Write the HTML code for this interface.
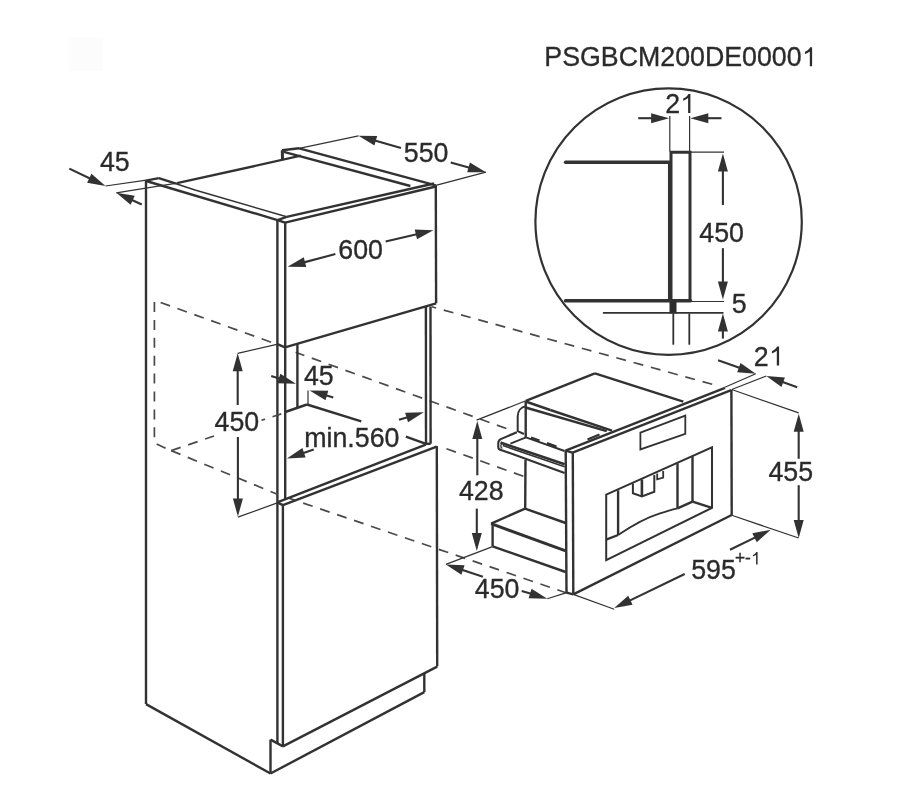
<!DOCTYPE html>
<html><head><meta charset="utf-8"><style>
html,body{margin:0;padding:0;background:#fff;overflow:hidden;}
svg{display:block;}
#w{will-change:transform;width:907px;height:796px;}
text{font-family:"Liberation Sans",sans-serif;fill:#2a2a2a;font-kerning:none;}
</style></head><body>
<div id="w"><svg width="907" height="796" viewBox="0 0 907 796">
<rect width="907" height="796" fill="#fff"/>
<rect x="69" y="37" width="34" height="34" fill="#fcfcfc"/>
<line x1="69.3" y1="168.6" x2="91.08" y2="179.07" stroke="#323232" stroke-width="2.1"/>
<polygon points="105.5,186 87.11,182.71 91.44,173.70" fill="#323232"/>
<line x1="105.5" y1="186" x2="146.4" y2="180.1" stroke="#323232" stroke-width="1.2"/>
<line x1="141.8" y1="204.5" x2="130.84" y2="199.47" stroke="#323232" stroke-width="2.1"/>
<polygon points="116.3,192.8 134.75,195.76 130.58,204.85" fill="#323232"/>
<line x1="116.3" y1="192.8" x2="177" y2="183.2" stroke="#323232" stroke-width="1.2"/>
<text transform="translate(99.89,170.8) scale(0.97,1)" font-size="27.6" stroke="#323232" stroke-width="0.35">45</text>
<line x1="146" y1="180.6" x2="146" y2="704.1" stroke="#323232" stroke-width="2.4"/>
<line x1="146" y1="180.6" x2="158.8" y2="178.1" stroke="#323232" stroke-width="2.4"/>
<line x1="146.2" y1="181" x2="277.5" y2="220.1" stroke="#323232" stroke-width="2.4"/>
<line x1="158.8" y1="178.1" x2="176" y2="183.7" stroke="#323232" stroke-width="2.4"/>
<path d="M176,183.7 L195,190 L286.7,216.8" fill="none" stroke="#323232" stroke-width="1.5" stroke-linejoin="miter"/>
<line x1="177" y1="183.2" x2="300.9" y2="155.7" stroke="#323232" stroke-width="2.4"/>
<line x1="282.3" y1="150.2" x2="282.5" y2="159.5" stroke="#323232" stroke-width="3"/>
<line x1="282.1" y1="150.2" x2="299.2" y2="148.3" stroke="#323232" stroke-width="2.4"/>
<line x1="299.2" y1="148.3" x2="435.8" y2="185.4" stroke="#323232" stroke-width="2.4"/>
<line x1="283.8" y1="151.8" x2="410.4" y2="186" stroke="#323232" stroke-width="2.4"/>
<line x1="286.7" y1="216.8" x2="434" y2="183.5" stroke="#323232" stroke-width="2.4"/>
<line x1="285.1" y1="222.6" x2="435.8" y2="186.5" stroke="#323232" stroke-width="2.4"/>
<line x1="277.5" y1="220.1" x2="285.1" y2="222.6" stroke="#323232" stroke-width="2.4"/>
<line x1="277.5" y1="220.1" x2="286.7" y2="216.8" stroke="#323232" stroke-width="2.4"/>
<line x1="299.2" y1="148.3" x2="358.5" y2="135.8" stroke="#323232" stroke-width="1.2"/>
<line x1="401" y1="147.9" x2="373.89" y2="140.18" stroke="#323232" stroke-width="2.1"/>
<polygon points="358.5,135.8 377.18,135.92 374.44,145.54" fill="#323232"/>
<line x1="450.7" y1="162.4" x2="470.49" y2="167.91" stroke="#323232" stroke-width="2.1"/>
<polygon points="485.9,172.2 467.22,172.19 469.90,162.56" fill="#323232"/>
<line x1="435.8" y1="185.4" x2="485.9" y2="172.2" stroke="#323232" stroke-width="1.2"/>
<text transform="translate(403.83,162.1) scale(0.97,1)" font-size="27.6" stroke="#323232" stroke-width="0.35">550</text>
<line x1="277.4" y1="220.1" x2="277.4" y2="743.4" stroke="#323232" stroke-width="2.4"/>
<line x1="285.2" y1="222.6" x2="285.2" y2="499.3" stroke="#323232" stroke-width="2.4"/>
<line x1="282.9" y1="505.2" x2="282.9" y2="746.4" stroke="#323232" stroke-width="2.4"/>
<line x1="435.8" y1="185.4" x2="436.1" y2="303.3" stroke="#323232" stroke-width="2.4"/>
<line x1="285" y1="347.4" x2="436.1" y2="303.3" stroke="#323232" stroke-width="2.4"/>
<line x1="277.4" y1="344.1" x2="285" y2="347.4" stroke="#323232" stroke-width="2.4"/>
<text transform="translate(338.34,259.4) scale(0.97,1)" font-size="27.6" stroke="#323232" stroke-width="0.35">600</text>
<line x1="335.4" y1="254.1" x2="303.07" y2="262.62" stroke="#323232" stroke-width="2.1"/>
<polygon points="287.6,266.7 303.73,257.28 306.28,266.95" fill="#323232"/>
<line x1="385.6" y1="241.6" x2="417.83" y2="233.98" stroke="#323232" stroke-width="2.1"/>
<polygon points="433.4,230.3 417.03,239.31 414.73,229.58" fill="#323232"/>
<line x1="154.4" y1="302" x2="154.4" y2="438" stroke="#4a4a4a" stroke-width="1.7" stroke-dasharray="10 7.9" stroke-dashoffset="0"/>
<line x1="160.6" y1="302.5" x2="277" y2="344.3" stroke="#4a4a4a" stroke-width="1.7" stroke-dasharray="10 7.9" stroke-dashoffset="0"/>
<line x1="295.6" y1="352.3" x2="506.5" y2="428.6" stroke="#4a4a4a" stroke-width="1.7" stroke-dasharray="10 7.9" stroke-dashoffset="0.7"/>
<line x1="171.2" y1="450.6" x2="214" y2="436" stroke="#4a4a4a" stroke-width="1.7" stroke-dasharray="10 7.9" stroke-dashoffset="0"/>
<line x1="261.5" y1="420.3" x2="281.3" y2="413.9" stroke="#4a4a4a" stroke-width="1.7" stroke-dasharray="10 7.9" stroke-dashoffset="6.3"/>
<line x1="156.6" y1="444" x2="165.8" y2="448.4" stroke="#4a4a4a" stroke-width="1.7" stroke-dasharray="10 7.9" stroke-dashoffset="0"/>
<line x1="171.2" y1="450.6" x2="278" y2="494.5" stroke="#4a4a4a" stroke-width="1.7" stroke-dasharray="10 7.9" stroke-dashoffset="0"/>
<line x1="289.5" y1="498.4" x2="566.7" y2="593" stroke="#4a4a4a" stroke-width="1.7" stroke-dasharray="10 7.9" stroke-dashoffset="3.4"/>
<line x1="431.7" y1="306.8" x2="715" y2="385" stroke="#4a4a4a" stroke-width="1.7" stroke-dasharray="10 7.9" stroke-dashoffset="5.4"/>
<line x1="446.5" y1="448.8" x2="523.9" y2="476.4" stroke="#4a4a4a" stroke-width="1.7" stroke-dasharray="10 7.9" stroke-dashoffset="0"/>
<line x1="425.9" y1="306.4" x2="426" y2="443.8" stroke="#323232" stroke-width="2.4"/>
<line x1="430.5" y1="306.4" x2="430.6" y2="443.8" stroke="#323232" stroke-width="2.4"/>
<line x1="297.4" y1="343.8" x2="297.4" y2="407.9" stroke="#323232" stroke-width="2.4"/>
<line x1="285.2" y1="412" x2="307" y2="404.5" stroke="#323232" stroke-width="2.4"/>
<line x1="307" y1="404.5" x2="361.3" y2="421.3" stroke="#323232" stroke-width="2.4"/>
<line x1="405.9" y1="436.7" x2="426" y2="443.8" stroke="#323232" stroke-width="2.4"/>
<line x1="308" y1="390.6" x2="308" y2="405" stroke="#323232" stroke-width="1.2"/>
<line x1="333.3" y1="397.4" x2="324.98" y2="395.01" stroke="#323232" stroke-width="2.1"/>
<polygon points="309.6,390.6 328.28,390.76 325.52,400.37" fill="#323232"/>
<line x1="271.2" y1="376" x2="280.74" y2="379.00" stroke="#323232" stroke-width="2.1"/>
<polygon points="296,383.8 277.33,383.17 280.33,373.63" fill="#323232"/>
<text transform="translate(303.99,384.9) scale(0.97,1)" font-size="27.6" stroke="#323232" stroke-width="0.35">45</text>
<line x1="237.7" y1="353.3" x2="276.8" y2="344.3" stroke="#323232" stroke-width="1.2"/>
<line x1="237.7" y1="405" x2="237.70" y2="369.30" stroke="#323232" stroke-width="2.1"/>
<polygon points="237.7,353.3 242.70,371.30 232.70,371.30" fill="#323232"/>
<line x1="237.9" y1="437" x2="237.90" y2="500.50" stroke="#323232" stroke-width="2.1"/>
<polygon points="237.9,516.5 232.90,498.50 242.90,498.50" fill="#323232"/>
<line x1="237.9" y1="517.1" x2="278.7" y2="502.4" stroke="#323232" stroke-width="1.2"/>
<line x1="277.2" y1="502.4" x2="425.8" y2="444.7" stroke="#323232" stroke-width="2.4"/>
<line x1="282.9" y1="505.2" x2="436.7" y2="446.6" stroke="#323232" stroke-width="2.4"/>
<line x1="277.2" y1="502.4" x2="282.9" y2="505.2" stroke="#323232" stroke-width="2.4"/>
<line x1="436.8" y1="446" x2="437.2" y2="666.6" stroke="#323232" stroke-width="2.4"/>
<line x1="282.9" y1="746.4" x2="437.2" y2="666.6" stroke="#323232" stroke-width="2.4"/>
<line x1="270.5" y1="739.6" x2="270.5" y2="773.5" stroke="#323232" stroke-width="2.4"/>
<line x1="270.5" y1="739.6" x2="283" y2="746.4" stroke="#323232" stroke-width="2.4"/>
<line x1="270.5" y1="773.5" x2="424.3" y2="692.1" stroke="#323232" stroke-width="2.4"/>
<line x1="424.3" y1="673.2" x2="424.3" y2="692.1" stroke="#323232" stroke-width="2.4"/>
<line x1="146" y1="704.1" x2="270.5" y2="773.5" stroke="#323232" stroke-width="2.4"/>
<line x1="426" y1="443.8" x2="430.6" y2="443.8" stroke="#323232" stroke-width="2.4"/>
<line x1="313.7" y1="449.6" x2="302.08" y2="453.46" stroke="#323232" stroke-width="2.1"/>
<polygon points="286.9,458.5 302.41,448.08 305.56,457.57" fill="#323232"/>
<line x1="399" y1="419.8" x2="408.49" y2="416.93" stroke="#323232" stroke-width="2.1"/>
<polygon points="423.8,412.3 408.02,422.30 405.12,412.72" fill="#323232"/>
<text transform="translate(304.22,447.2) scale(0.97,1)" font-size="27.6" stroke="#323232" stroke-width="0.35">min.560</text>
<text transform="translate(214.59,430.5) scale(0.97,1)" font-size="27.6" stroke="#323232" stroke-width="0.35">450</text>
<line x1="525.8" y1="400.8" x2="594.9" y2="373.3" stroke="#323232" stroke-width="2.4"/>
<line x1="594.9" y1="373.3" x2="683.3" y2="401.7" stroke="#323232" stroke-width="2.4"/>
<line x1="476.6" y1="420.1" x2="525.8" y2="400.8" stroke="#323232" stroke-width="1.2"/>
<line x1="525.7" y1="401.2" x2="525.7" y2="437" stroke="#323232" stroke-width="2.4"/>
<line x1="525.5" y1="460" x2="525.2" y2="508.6" stroke="#323232" stroke-width="2.4"/>
<line x1="550.3" y1="410" x2="612" y2="430.7" stroke="#323232" stroke-width="2.4"/>
<line x1="525.6" y1="401.5" x2="550.3" y2="410" stroke="#323232" stroke-width="2.4"/>
<line x1="525.6" y1="407.5" x2="606.7" y2="431.2" stroke="#323232" stroke-width="2.4"/>
<line x1="565.5" y1="450.6" x2="725" y2="387.8" stroke="#323232" stroke-width="2.4"/>
<line x1="572.6" y1="452.6" x2="731.2" y2="390.1" stroke="#323232" stroke-width="2.4"/>
<line x1="565.5" y1="450.6" x2="572.6" y2="452.6" stroke="#323232" stroke-width="2.4"/>
<line x1="565.7" y1="450.6" x2="566.5" y2="592.6" stroke="#323232" stroke-width="2.4"/>
<line x1="572.8" y1="452.6" x2="573.3" y2="594.4" stroke="#323232" stroke-width="2.4"/>
<line x1="731.4" y1="390.1" x2="731.7" y2="515" stroke="#323232" stroke-width="2.4"/>
<line x1="573.3" y1="594.4" x2="731.7" y2="515" stroke="#323232" stroke-width="2.4"/>
<line x1="566.5" y1="592.6" x2="573.3" y2="594.4" stroke="#323232" stroke-width="2.4"/>
<path d="M640.4,432.6 L685.3,415.6 L685.3,433.8 L640.4,449.4 Z" fill="none" stroke="#323232" stroke-width="1.8" stroke-linejoin="miter"/>
<path d="M606.2,494.7 L712,447.3 L712,507.8 L606.2,560.2 Z" fill="none" stroke="#323232" stroke-width="2" stroke-linejoin="miter"/>
<line x1="618.1" y1="490.3" x2="618.1" y2="535" stroke="#323232" stroke-width="2.4"/>
<line x1="606.2" y1="539.7" x2="618.1" y2="535" stroke="#323232" stroke-width="2.4"/>
<path d="M618.1,535 C630,527 645,518 660,513.4 S672,509.5 677.5,508.4" fill="none" stroke="#323232" stroke-width="1.8"/>
<line x1="677.5" y1="463.2" x2="677.5" y2="508.4" stroke="#323232" stroke-width="2.4"/>
<line x1="692.5" y1="456.4" x2="692.5" y2="501.6" stroke="#323232" stroke-width="2.4"/>
<line x1="677.5" y1="508.4" x2="692.5" y2="501.6" stroke="#323232" stroke-width="2.4"/>
<line x1="692.5" y1="501.6" x2="712" y2="507.8" stroke="#323232" stroke-width="2.4"/>
<path d="M632.9,483.4 L632.9,493.3 L641.9,496.5 L654.3,491.8 L654.3,474.9" fill="none" stroke="#323232" stroke-width="2" stroke-linejoin="miter"/>
<line x1="641.9" y1="479.4" x2="641.9" y2="496.5" stroke="#323232" stroke-width="2.6"/>
<path d="M657.2,473.4 L657.2,479.4 L663.2,477.6 L663.2,471" fill="none" stroke="#323232" stroke-width="1.8" stroke-linejoin="miter"/>
<path d="M526,406.3 C521,407 517.7,411 517.7,416.5 L517.7,431.2 L523.9,434" fill="none" stroke="#323232" stroke-width="2"/>
<path d="M516.8,432.2 L500.8,439.1 Q498.3,440.3 498.3,443 L498.3,447.2 Q498.3,449.2 500.4,449.8" fill="none" stroke="#323232" stroke-width="2.1"/>
<path d="M503,443.1 Q500.9,443.6 500.9,445.6 L500.9,446.6 Q500.9,447.9 502.4,448.3" fill="none" stroke="#323232" stroke-width="1.3"/>
<line x1="500.5" y1="442.6" x2="564.6" y2="464.3" stroke="#323232" stroke-width="2.6"/>
<line x1="502.8" y1="445.5" x2="564.6" y2="466.8" stroke="#323232" stroke-width="1.6"/>
<line x1="499.5" y1="449.4" x2="564.6" y2="473" stroke="#323232" stroke-width="2.1"/>
<line x1="510.4" y1="443.6" x2="526" y2="437.4" stroke="#323232" stroke-width="1.8"/>
<line x1="526" y1="437.4" x2="564.6" y2="451" stroke="#323232" stroke-width="2"/>
<line x1="531" y1="437.6" x2="539.5" y2="440.6" stroke="#323232" stroke-width="2.4"/>
<line x1="547" y1="443.2" x2="556.5" y2="446.6" stroke="#323232" stroke-width="2.4"/>
<line x1="587.5" y1="439.5" x2="599.5" y2="434.5" stroke="#323232" stroke-width="2.4"/>
<line x1="525" y1="508.6" x2="491.1" y2="523.7" stroke="#323232" stroke-width="2.4"/>
<line x1="525" y1="508.6" x2="565.7" y2="523" stroke="#323232" stroke-width="2.4"/>
<line x1="491.1" y1="523.7" x2="565.7" y2="550.9" stroke="#323232" stroke-width="3"/>
<line x1="492.6" y1="525.2" x2="492.6" y2="546.3" stroke="#323232" stroke-width="2.4"/>
<line x1="492.6" y1="546.3" x2="565.7" y2="572" stroke="#323232" stroke-width="2.4"/>
<line x1="477.3" y1="475.3" x2="477.30" y2="437.10" stroke="#323232" stroke-width="2.1"/>
<polygon points="477.3,421.1 482.30,439.10 472.30,439.10" fill="#323232"/>
<line x1="476.8" y1="508.6" x2="476.80" y2="534.90" stroke="#323232" stroke-width="2.1"/>
<polygon points="476.8,550.9 471.80,532.90 481.80,532.90" fill="#323232"/>
<line x1="445.9" y1="564.4" x2="492.6" y2="546.6" stroke="#323232" stroke-width="1.2"/>
<text transform="translate(458.99,499.8) scale(0.97,1)" font-size="27.6" stroke="#323232" stroke-width="0.35">428</text>
<line x1="482.9" y1="576.7" x2="461.08" y2="569.45" stroke="#323232" stroke-width="2.1"/>
<polygon points="445.9,564.4 464.56,565.33 461.40,574.82" fill="#323232"/>
<line x1="521.7" y1="590.9" x2="532.01" y2="594.08" stroke="#323232" stroke-width="2.1"/>
<polygon points="547.3,598.8 528.63,598.27 531.57,588.71" fill="#323232"/>
<line x1="547.3" y1="598.8" x2="566.7" y2="592.6" stroke="#323232" stroke-width="1.2"/>
<text transform="translate(474.79,597.7) scale(0.97,1)" font-size="27.6" stroke="#323232" stroke-width="0.35">450</text>
<line x1="573.3" y1="594.4" x2="614.2" y2="609.2" stroke="#323232" stroke-width="1.2"/>
<line x1="684.7" y1="574" x2="628.60" y2="601.13" stroke="#323232" stroke-width="2.1"/>
<polygon points="614.2,608.1 628.23,595.76 632.58,604.76" fill="#323232"/>
<line x1="730" y1="549.7" x2="756.33" y2="536.83" stroke="#323232" stroke-width="2.1"/>
<polygon points="770.7,529.8 756.73,542.20 752.33,533.21" fill="#323232"/>
<line x1="731.7" y1="515.3" x2="798.7" y2="538" stroke="#323232" stroke-width="1.2"/>
<text transform="translate(691.13,578.7) scale(0.97,1)" font-size="27.6" stroke="#323232" stroke-width="0.35">595</text>
<text transform="translate(734.95,564.4) scale(0.97,1)" font-size="17.9" stroke="#323232" stroke-width="0.35">+-</text>
<path transform="translate(750.87,564.4) scale(0.00848,-0.00874)" d="M793,0 L617,0 L617,1100 C560,1050 420,960 242,900 L242,1068 C420,1140 560,1260 640,1409 L793,1409 Z" fill="#2c2c2c"/>
<line x1="731.7" y1="389.5" x2="798.7" y2="412.9" stroke="#323232" stroke-width="1.2"/>
<line x1="798.7" y1="458.8" x2="798.70" y2="429.70" stroke="#323232" stroke-width="2.1"/>
<polygon points="798.7,413.7 803.70,431.70 793.70,431.70" fill="#323232"/>
<line x1="798.7" y1="485.2" x2="798.70" y2="522.00" stroke="#323232" stroke-width="2.1"/>
<polygon points="798.7,538 793.70,520.00 803.70,520.00" fill="#323232"/>
<text transform="translate(768.39,480.8) scale(0.97,1)" font-size="27.6" stroke="#323232" stroke-width="0.35">455</text>
<line x1="718.1" y1="360.2" x2="740.74" y2="368.31" stroke="#323232" stroke-width="2.1"/>
<polygon points="755.8,373.7 737.17,372.34 740.54,362.92" fill="#323232"/>
<line x1="755.8" y1="373.7" x2="724.9" y2="387.3" stroke="#323232" stroke-width="1.2"/>
<line x1="797.2" y1="387.3" x2="781.33" y2="381.50" stroke="#323232" stroke-width="2.1"/>
<polygon points="766.3,376 784.92,377.49 781.49,386.88" fill="#323232"/>
<line x1="766.3" y1="376" x2="731.7" y2="389.5" stroke="#323232" stroke-width="1.2"/>
<text transform="translate(753.85,365.6) scale(0.97,1)" font-size="27.6" stroke="#323232" stroke-width="0.35">2</text>
<path transform="translate(768.74,365.6) scale(0.01307,-0.01348)" d="M793,0 L617,0 L617,1100 C560,1050 420,960 242,900 L242,1068 C420,1140 560,1260 640,1409 L793,1409 Z" fill="#2c2c2c"/>
<circle cx="668.6" cy="221.6" r="133.2" fill="none" stroke="#323232" stroke-width="2.2"/>
<line x1="565.5" y1="162.2" x2="669.5" y2="162.2" stroke="#323232" stroke-width="3.4" stroke-linecap="round"/>
<line x1="565.5" y1="300.8" x2="690.5" y2="300.8" stroke="#323232" stroke-width="3.4" stroke-linecap="round"/>
<path d="M671,301 L671,152.2 L690,152.2 L690,301" fill="none" stroke="#323232" stroke-width="3" stroke-linejoin="miter"/>
<line x1="669.2" y1="162.2" x2="669.2" y2="301" stroke="#323232" stroke-width="2.5"/>
<rect x="669.5" y="301.5" width="7" height="12" fill="#2c2c2c"/>
<line x1="602.9" y1="312.9" x2="723.5" y2="312.9" stroke="#323232" stroke-width="1.7"/>
<line x1="673.3" y1="313.5" x2="673.3" y2="344.7" stroke="#323232" stroke-width="1.8"/>
<line x1="689.3" y1="313.5" x2="689.3" y2="344.7" stroke="#323232" stroke-width="1.8"/>
<line x1="669.8" y1="116" x2="669.8" y2="151.6" stroke="#323232" stroke-width="1.2"/>
<line x1="689.6" y1="116" x2="689.6" y2="151.6" stroke="#323232" stroke-width="1.2"/>
<line x1="638.2" y1="118.2" x2="653.10" y2="118.20" stroke="#323232" stroke-width="2.1"/>
<polygon points="669.1,118.2 651.10,123.20 651.10,113.20" fill="#323232"/>
<line x1="721.5" y1="118.2" x2="706.30" y2="118.20" stroke="#323232" stroke-width="2.1"/>
<polygon points="690.3,118.2 708.30,113.20 708.30,123.20" fill="#323232"/>
<text transform="translate(665.15,112.9) scale(0.97,1)" font-size="27.6" stroke="#323232" stroke-width="0.35">2</text>
<path transform="translate(680.04,112.9) scale(0.01307,-0.01348)" d="M793,0 L617,0 L617,1100 C560,1050 420,960 242,900 L242,1068 C420,1140 560,1260 640,1409 L793,1409 Z" fill="#2c2c2c"/>
<line x1="690.4" y1="152.2" x2="724" y2="152.2" stroke="#323232" stroke-width="1.2"/>
<line x1="690.4" y1="301.5" x2="724" y2="301.5" stroke="#323232" stroke-width="1.2"/>
<line x1="722.9" y1="205" x2="722.90" y2="169.40" stroke="#323232" stroke-width="2.1"/>
<polygon points="722.9,153.4 727.90,171.40 717.90,171.40" fill="#323232"/>
<line x1="722.9" y1="248.2" x2="722.90" y2="283.40" stroke="#323232" stroke-width="2.1"/>
<polygon points="722.9,299.4 717.90,281.40 727.90,281.40" fill="#323232"/>
<text transform="translate(699.29,241.6) scale(0.97,1)" font-size="27.6" stroke="#323232" stroke-width="0.35">450</text>
<line x1="722.9" y1="338.6" x2="722.90" y2="329.50" stroke="#323232" stroke-width="2.1"/>
<polygon points="722.9,313.5 727.90,331.50 717.90,331.50" fill="#323232"/>
<text transform="translate(731.63,313) scale(0.97,1)" font-size="27.6" stroke="#323232" stroke-width="0.35">5</text>
<text transform="translate(544.30,66.25) scale(0.97,1)" font-size="27.6" stroke="#323232" stroke-width="0.35">PSGBCM200DE0000</text>
<path transform="translate(801.75,66.25) scale(0.01307,-0.01348)" d="M793,0 L617,0 L617,1100 C560,1050 420,960 242,900 L242,1068 C420,1140 560,1260 640,1409 L793,1409 Z" fill="#2c2c2c"/>
</svg></div>
</body></html>
